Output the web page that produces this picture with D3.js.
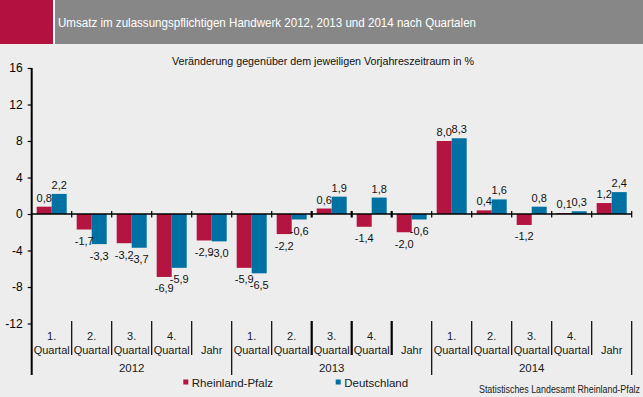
<!DOCTYPE html>
<html>
<head>
<meta charset="utf-8">
<script src="https://cdn.jsdelivr.net/npm/d3@7"></script>
<style>
  body { margin: 0; background: #ecedec; }
  svg { display: block; font-family: "Liberation Sans", Arial, sans-serif; }
</style>
</head>
<body>
<div id="chart"></div>
<script>
// CHART DATA
var years = ['2012', '2013', '2014'];
var periods = [['1.', 'Quartal'], ['2.', 'Quartal'], ['3.', 'Quartal'], ['4.', 'Quartal'], ['', 'Jahr']];
var rlp = [0.8, -1.7, -3.2, -6.9, -2.9, -5.9, -2.2, 0.6, -1.4, -2.0, 8.0, 0.4, -1.2, 0.1, 1.2];
var de = [2.2, -3.3, -3.7, -5.9, -3.0, -6.5, -0.6, 1.9, 1.8, -0.6, 8.3, 1.6, 0.8, 0.3, 2.4];
var yTicks = [-12, -8, -4, 0, 4, 8, 12, 16];
var seriesNames = ['Rheinland-Pfalz', 'Deutschland'];

// SETTINGS
var width = 643, height = 397;
var colors = { 'Rheinland-Pfalz': '#b4143f', 'Deutschland': '#0071a2' };
var plot = { left: 31.7, right: 631.7, top: 68, zero: 214, axisBottom: 375 };

// BUILD CATEGORY LIST
var categories = [];
years.forEach(year => {
   periods.forEach((p, i) => {
      categories.push({ key: year + '-' + i, year: year, line1: p[0], line2: p[1] });
   });
});

// GERMAN NUMBER FORMAT
var locale = d3.formatLocale({ decimal: ',', thousands: '.', grouping: [3], currency: ['', '€'], minus: '-' });
var fmt = locale.format('.1f');
var fmtTick = locale.format('d');

var svg = d3.select('#chart').append('svg')
   .attr('width', width)
   .attr('height', height)

// BACKGROUND
svg.append('rect').attr('width', width).attr('height', height).attr('fill', '#ecedec')

// TITLE BAR
svg.append('rect').attr('x', 0).attr('y', 0).attr('width', 53).attr('height', 44).attr('fill', '#b4123e')
svg.append('rect').attr('x', 53).attr('y', 0).attr('width', 2).attr('height', 44).attr('fill', '#ffffff')
svg.append('rect').attr('x', 55).attr('y', 0).attr('width', width - 55).attr('height', 44).attr('fill', '#878787')
svg.append('text')
   .attr('x', 58).attr('y', 27)
   .attr('fill', '#ffffff')
   .attr('font-size', 13)
   .attr('textLength', 418)
   .attr('lengthAdjust', 'spacingAndGlyphs')
   .text('Umsatz im zulassungspflichtigen Handwerk 2012, 2013 und 2014 nach Quartalen')

// SUBTITLE
svg.append('text')
   .attr('x', 172).attr('y', 64.5)
   .attr('fill', '#111')
   .attr('font-size', 11)
   .attr('textLength', 302)
   .attr('lengthAdjust', 'spacingAndGlyphs')
   .text('Veränderung gegenüber dem jeweiligen Vorjahreszeitraum in %')

// SCALES
var yScale = d3.scaleLinear()
   .domain([0, 16])
   .range([plot.zero, plot.top])

var x0 = d3.scaleBand()
   .domain(categories.map(d => d.key))
   .range([plot.left, plot.right])
   .paddingInner(0.25)
   .paddingOuter(0.125)

var x1 = d3.scaleBand()
   .domain(seriesNames)
   .range([0, x0.bandwidth()])

var step = x0.step();

// Y AXIS
var yAxis = svg.append('g')
   .attr('transform', 'translate(' + plot.left + ',0)')
   .call(d3.axisLeft(yScale).tickValues(yTicks).tickSize(4).tickPadding(5).tickFormat(fmtTick))
yAxis.select('.domain').remove()
yAxis.selectAll('.tick line').attr('stroke', '#000').attr('stroke-width', 1.2)
yAxis.selectAll('.tick text')
   .attr('font-size', 12)
   .attr('font-family', '"Liberation Sans", Arial, sans-serif')
   .attr('fill', '#000')

// BARS
var rows = categories.map((c, i) => ({ key: c.key, values: [
   { name: seriesNames[0], value: rlp[i] },
   { name: seriesNames[1], value: de[i] }
] }));

var groups = svg.selectAll('g.cat')
   .data(rows)
   .enter().append('g')
      .attr('class', 'cat')
      .attr('transform', d => 'translate(' + x0(d.key) + ',0)')

groups.selectAll('rect')
   .data(d => d.values)
   .enter().append('rect')
      .attr('x', d => x1(d.name))
      .attr('width', x1.bandwidth())
      .attr('y', d => yScale(Math.max(0, d.value)))
      .attr('height', d => Math.abs(yScale(d.value) - yScale(0)))
      .attr('fill', d => colors[d.name])

// VALUE LABELS
groups.selectAll('text')
   .data(d => d.values)
   .enter().append('text')
      .attr('x', d => x1(d.name) + x1.bandwidth() / 2)
      .attr('y', d => d.value >= 0 ? yScale(d.value) - 5 : yScale(d.value) + 15.5)
      .attr('text-anchor', 'middle')
      .attr('font-size', 11)
      .attr('fill', '#111')
      .text(d => fmt(d.value))

// ZERO LINE
svg.append('line')
   .attr('x1', plot.left).attr('x2', plot.right)
   .attr('y1', yScale(0)).attr('y2', yScale(0))
   .attr('stroke', '#000').attr('stroke-width', 1.5)

// Y AXIS LINE
svg.append('line')
   .attr('x1', plot.left).attr('x2', plot.left)
   .attr('y1', yScale(16)).attr('y2', plot.axisBottom)
   .attr('stroke', '#000').attr('stroke-width', 2)

// BOUNDARY TICKS -- ZERO LINE AND CATEGORY AREA
var boundaries = d3.range(1, categories.length + 1);
var boldBoundaries = [7, 8, 9];
svg.selectAll('line.ztick')
   .data(boundaries)
   .enter().append('line')
      .attr('class', 'ztick')
      .attr('x1', i => plot.left + i * step).attr('x2', i => plot.left + i * step)
      .attr('y1', yScale(0) - 3).attr('y2', yScale(0) + 3.5)
      .attr('stroke', '#000')
      .attr('stroke-width', i => boldBoundaries.includes(i) ? 2.2 : 1.2)

svg.selectAll('line.ctick')
   .data(boundaries)
   .enter().append('line')
      .attr('class', 'ctick')
      .attr('x1', i => plot.left + i * step).attr('x2', i => plot.left + i * step)
      .attr('y1', 321)
      .attr('y2', i => i % periods.length == 0 ? plot.axisBottom : 355)
      .attr('stroke', '#000')
      .attr('stroke-width', i => boldBoundaries.includes(i) ? 2.2 : 1.2)

// CATEGORY LABELS
var catLabels = svg.selectAll('g.clabel')
   .data(categories)
   .enter().append('g')
      .attr('class', 'clabel')
      .attr('transform', d => 'translate(' + (x0(d.key) + x0.bandwidth() / 2) + ',0)')

catLabels.append('text')
   .attr('y', 340).attr('text-anchor', 'middle').attr('font-size', 11).attr('fill', '#1a1a1a')
   .text(d => d.line1)

catLabels.append('text')
   .attr('y', 354).attr('text-anchor', 'middle').attr('font-size', 11).attr('fill', '#1a1a1a')
   .text(d => d.line2)

// YEAR LABELS
svg.selectAll('text.year')
   .data(years)
   .enter().append('text')
      .attr('class', 'year')
      .attr('x', (d, i) => plot.left + (i * periods.length + periods.length / 2) * step)
      .attr('y', 372)
      .attr('text-anchor', 'middle')
      .attr('font-size', 11.5)
      .attr('fill', '#1a1a1a')
      .text(d => d)

// LEGEND
var legendX = [183.3, 335.7];
var legend = svg.selectAll('g.legend')
   .data(seriesNames)
   .enter().append('g')
      .attr('class', 'legend')
      .attr('transform', (d, i) => 'translate(' + legendX[i] + ',379.5)')

legend.append('rect')
   .attr('width', 5).attr('height', 5)
   .attr('fill', d => colors[d])

legend.append('text')
   .attr('x', 8.5).attr('y', 7)
   .attr('font-size', 11.5)
   .attr('fill', '#1a1a1a')
   .text(d => d)

// SOURCE
svg.append('text')
   .attr('x', 640).attr('y', 393)
   .attr('text-anchor', 'end')
   .attr('font-size', 10)
   .attr('fill', '#1a1a1a')
   .attr('textLength', 161)
   .attr('lengthAdjust', 'spacingAndGlyphs')
   .text('Statistisches Landesamt Rheinland-Pfalz')
</script>
</body>
</html>
